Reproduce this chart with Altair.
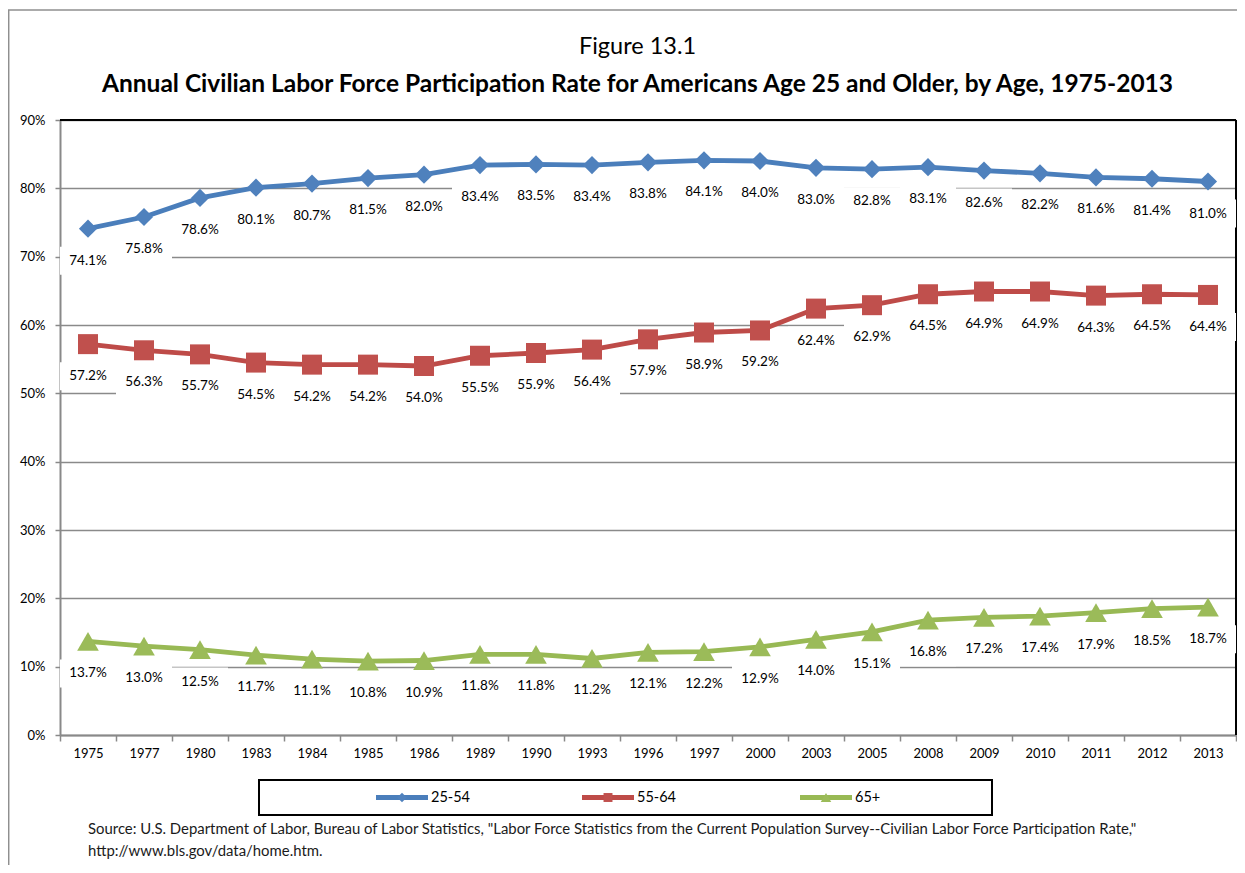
import altair as alt
import pandas as pd

years = ["1975", "1977", "1980", "1983", "1984", "1985", "1986", "1989", "1990", "1993",
         "1996", "1997", "2000", "2003", "2005", "2008", "2009", "2010", "2011", "2012", "2013"]
age_groups = ["25-54", "55-64", "65+"]
rate_25_54 = [74.1, 75.8, 78.6, 80.1, 80.7, 81.5, 82.0, 83.4, 83.5, 83.4, 83.8, 84.1, 84.0,
              83.0, 82.8, 83.1, 82.6, 82.2, 81.6, 81.4, 81.0]
rate_55_64 = [57.2, 56.3, 55.7, 54.5, 54.2, 54.2, 54.0, 55.5, 55.9, 56.4, 57.9, 58.9, 59.2,
              62.4, 62.9, 64.5, 64.9, 64.9, 64.3, 64.5, 64.4]
rate_65_plus = [13.7, 13.0, 12.5, 11.7, 11.1, 10.8, 10.9, 11.8, 11.8, 11.2, 12.1, 12.2, 12.9,
                14.0, 15.1, 16.8, 17.2, 17.4, 17.9, 18.5, 18.7]
y_ticks = [0.0, 0.1, 0.2, 0.3, 0.4, 0.5, 0.6, 0.7, 0.8, 0.9]

line_colors = ["#4A7EBB", "#BE4B48", "#98B954"]
marker_colors = ["#4F81BD", "#C0504D", "#9BBB59"]
shapes = ["diamond", "square", "triangle-up"]
sizes = [330, 400, 470]
legend_sizes = [90, 80, 110]

title_top = "Figure 13.1"
title_main = "Annual Civilian Labor Force Participation Rate for Americans Age 25 and Older, by Age, 1975-2013"
source_1 = ('Source: U.S. Department of Labor, Bureau of Labor Statistics, "Labor Force Statistics from the '
            'Current Population Survey--Civilian Labor Force Participation Rate,"')
source_2 = "http://www.bls.gov/data/home.htm."

rows = []
for g, vals in zip(age_groups, [rate_25_54, rate_55_64, rate_65_plus]):
    for yr, v in zip(years, vals):
        rows.append({"year": yr, "group": g, "rate": v / 100})
df = pd.DataFrame(rows)

W, H = 1176, 615
FONT = "Lato"
one = alt.Data(values=[{}])

x_enc = alt.X("year:O", sort=years,
              scale=alt.Scale(type="band", paddingInner=0, paddingOuter=0),
              axis=alt.Axis(title=None, labelAngle=0, tickBand="extent", grid=False,
                            domainColor="#898989", domainWidth=2, tickColor="#898989",
                            tickWidth=1.5, tickSize=6, labelPadding=6, labelFont=FONT,
                            labelFontSize=13, labelColor="#000"))
y_enc = alt.Y("rate:Q", scale=alt.Scale(domain=[0, 0.9], nice=False, zero=True),
              axis=alt.Axis(title=None, values=y_ticks, format=".0%", grid=True,
                            gridColor="#8a8a8a", gridWidth=1.6, domainColor="#898989",
                            domainWidth=2, tickColor="#898989", tickWidth=1.5, tickSize=5,
                            labelPadding=10, labelFont=FONT, labelFontSize=13,
                            labelColor="#000"))

base = alt.Chart(df)

layers = []
# plot border (top & right)
layers.append(alt.Chart(one).mark_rule(color="black", strokeWidth=2).encode(
    x=alt.value(0), x2=alt.value(W), y=alt.value(0)))
layers.append(alt.Chart(one).mark_rule(color="black", strokeWidth=2).encode(
    x=alt.value(W), y=alt.value(0), y2=alt.value(H)))

for g, lc, mc, shp, sz in zip(age_groups, line_colors, marker_colors, shapes, sizes):
    sub = base.transform_filter(alt.datum.group == g)
    layers.append(sub.mark_line(color=lc, strokeWidth=4.8).encode(x=x_enc, y=y_enc))
    layers.append(sub.mark_point(shape=shp, size=sz, filled=True, color=mc, opacity=1).encode(
        x=x_enc, y=y_enc))

# label white boxes
layers.append(base.mark_rect(fill="white", yOffset=18, y2Offset=46).encode(
    x=x_enc, y=y_enc, y2=alt.Y2("rate:Q")))
# label texts
layers.append(base.mark_text(yOffset=32, font=FONT, fontSize=13.5, color="#000").encode(
    x=x_enc, y=y_enc, text=alt.Text("rate:Q", format=".1%")))

# outer frame
layers.append(alt.Chart(one).mark_rule(color="#8f8f8f", strokeWidth=1.5).encode(
    x=alt.value(-51.3), y=alt.value(-110), y2=alt.value(H + 150)))
layers.append(alt.Chart(one).mark_rule(color="#8f8f8f", strokeWidth=1.5).encode(
    x=alt.value(-52), x2=alt.value(W + 2), y=alt.value(-110)))

# titles
layers.append(alt.Chart(one).mark_text(font=FONT, fontSize=23.5, color="#000",
                                       align="center", baseline="middle").encode(
    x=alt.value(577.5), y=alt.value(-73), text=alt.value(title_top)))
layers.append(alt.Chart(one).mark_text(font=FONT, fontSize=24.5, fontWeight="bold", color="#000",
                                       align="center", baseline="middle").encode(
    x=alt.value(577.5), y=alt.value(-35), text=alt.value(title_main)))

# legend
layers.append(alt.Chart(one).mark_rect(fill="white", stroke="black", strokeWidth=2).encode(
    x=alt.value(199), x2=alt.value(932), y=alt.value(660), y2=alt.value(695)))
legend_x = [316, 522, 740]
for g, lc, mc, shp, lsz, lx in zip(age_groups, line_colors, marker_colors, shapes,
                                   legend_sizes, legend_x):
    layers.append(alt.Chart(one).mark_rule(color=lc, strokeWidth=4.8).encode(
        x=alt.value(lx), x2=alt.value(lx + 52), y=alt.value(677.5)))
    layers.append(alt.Chart(one).mark_point(shape=shp, size=lsz, filled=True, color=mc,
                                            opacity=1).encode(
        x=alt.value(lx + 26), y=alt.value(677.5)))
    layers.append(alt.Chart(one).mark_text(font=FONT, fontSize=14.5, color="#000",
                                           align="left", baseline="middle").encode(
        x=alt.value(lx + 55), y=alt.value(677.5), text=alt.value(g)))

# source
layers.append(alt.Chart(one).mark_text(font=FONT, fontSize=14.9, color="#1a1a1a",
                                       align="left", baseline="middle").encode(
    x=alt.value(28), y=alt.value(710), text=alt.value(source_1)))
layers.append(alt.Chart(one).mark_text(font=FONT, fontSize=14.9, color="#1a1a1a",
                                       align="left", baseline="middle").encode(
    x=alt.value(28), y=alt.value(732), text=alt.value(source_2)))

chart = alt.layer(*layers).properties(
    width=W, height=H,
    autosize=alt.AutoSizeParams(type="none"),
    padding={"left": 52, "top": 112, "right": 1, "bottom": 130},
).configure_view(stroke=None)

chart.save("out.html", embed_options={"renderer": "svg", "actions": False})
